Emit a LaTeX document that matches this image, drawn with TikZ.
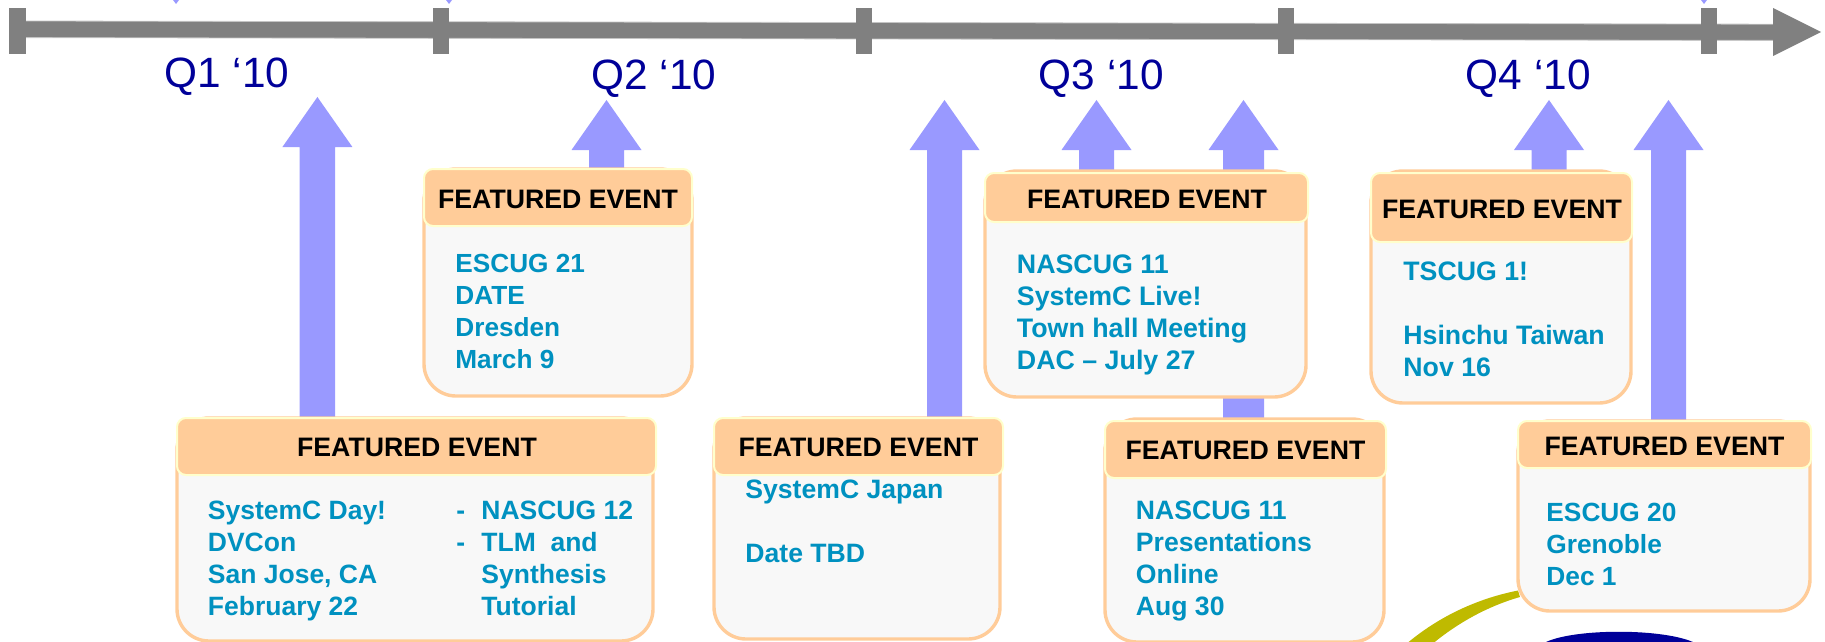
\documentclass[tikz,border=0pt]{standalone}
\usepackage{fontspec}
\setmainfont{Liberation Sans}
\usetikzlibrary{backgrounds,calc}
\definecolor{axisgrey}{HTML}{808080}
\definecolor{axisedge}{HTML}{C4C4C4}
\definecolor{quarter}{HTML}{000099}
\definecolor{arrowblue}{HTML}{9999FF}
\definecolor{bodyfill}{HTML}{F8F8F8}
\definecolor{peach}{HTML}{FFCC99}
\definecolor{paleyellow}{HTML}{FFFFCC}
\definecolor{eventblue}{HTML}{0091C0}
\definecolor{olive}{HTML}{BFBA00}
\tikzset{
  axisfill/.style={fill=axisgrey,draw=none},
  quarterlabel/.style={anchor=base west,inner sep=0pt,text=quarter,font=\fontsize{21.2}{25}\selectfont},
  evbody/.style={rectangle,inner sep=0pt,outer sep=0pt,draw=peach,fill=bodyfill,line width=1.7pt,rounded corners=16pt},
  evhead/.style={rectangle,inner sep=0pt,outer sep=0pt,draw=paleyellow,fill=peach,line width=1pt,rounded corners=4.5pt},
  evtitle/.style={anchor=base,inner sep=0pt,text=black,font=\fontsize{13.35}{16}\selectfont\bfseries},
  evtext/.style={anchor=base west,inner sep=0pt,align=left,text=eventblue,font=\fontsize{#1}{16}\selectfont\bfseries},
  evtext/.default=13.25,
  blockfill/.style={fill=arrowblue,draw=none}
}
% name, x1, x2, y1, y2 : rounded box by its outer edges in reference pixels
\newcommand{\evbox}[6]{%
  \node[#6,minimum width={(#3-#2)*0.5pt},minimum height={(#5-#4)*0.5pt}] (#1) at ({(#2+#3)/2},{(#4+#5)/2}) {};}
% name, tip x, tip y, shaft half width, foot node
\newcommand{\blockarrow}[5]{%
  \coordinate (#1tip) at (#2,#3);
  \coordinate (#1foot) at (#1tip |- #5.north);
  \begin{scope}[on background layer]
  \fill[blockfill] (#1tip) -- ++(35,50) -- ++({-35+#4},0) -- ([xshift={#4*0.5pt},yshift=-2pt]#1foot) -- ([xshift={-#4*0.5pt},yshift=-2pt]#1foot) -- ($(#1tip)+({-#4},50)$) -- ++({-35+#4},0) -- cycle;
  \end{scope}}
\begin{document}
\begin{tikzpicture}[x=0.5pt,y=-0.5pt]
\useasboundingbox (0,0) rectangle (1825,642);
\clip (0,0) rectangle (1825,642);
% axis
\fill[axisgrey,draw=axisedge,line width=0.4pt] (20,21) -- (1775,24.2) -- (1775,40.4) -- (20,37.6) -- cycle;
\fill[axisfill] (1773,8) -- (1821,32) -- (1773,56) -- cycle;
\foreach \nm/\xa/\xb in {t0/9/25.5,t1/433/449,t2/856/872,t3/1278/1294,t4/1701/1717}
  \node[rectangle,inner sep=0pt,outer sep=0pt,axisfill,minimum width={(\xb-\xa)*0.5pt},minimum height=23pt] (\nm) at ({(\xa+\xb)/2},31) {};
% small tips at the upper edge
\foreach \tx in {176,449,1704}
  \fill[blockfill] (\tx-3,0) -- (\tx+3,0) -- (\tx,4) -- cycle;
% quarters
\node[quarterlabel] (q1) at (164,88) {Q1 ‘10};
\node[quarterlabel] (q2) at (591,89.5) {Q2 ‘10};
\node[quarterlabel] (q3) at (1038.5,90) {Q3 ‘10};
\node[quarterlabel] (q4) at (1465.5,89.5) {Q4 ‘10};
% crescent and logo edge
\fill[olive] (1518,590.5) .. controls (1480,598) and (1440,615) .. (1405,645) -- (1431,645) .. controls (1455,625) and (1485,607) .. (1520,597) -- cycle;
\fill[quarter] (1544,643) .. controls (1572,628) and (1665,628) .. (1695,643) -- cycle;
% boxes
\evbox{b1}{177}{653}{418}{641}{evbody}
\evbox{h1}{177}{656}{418}{475}{evhead}
\evbox{b2}{424}{692}{169}{396}{evbody}
\evbox{h2}{424}{692}{169}{226}{evhead}
\evbox{b3}{714}{1000}{418}{639}{evbody}
\evbox{h3}{714}{1003}{418}{475}{evhead}
\evbox{b4}{985}{1306}{171}{397}{evbody}
\evbox{h4}{985}{1308}{173}{222}{evhead}
\evbox{b5}{1105}{1384}{419}{642}{evbody}
\evbox{h5}{1105}{1386}{421}{478}{evhead}
\evbox{b6}{1371}{1631}{171}{403}{evbody}
\evbox{h6}{1371}{1632}{173}{242}{evhead}
\evbox{b7}{1518}{1810}{421}{611}{evbody}
\evbox{h7}{1518}{1811}{421}{468}{evhead}
% titles
\node[evtitle] (t1a) at (417,456) {FEATURED EVENT};
\node[evtitle] (t2a) at (558,208) {FEATURED EVENT};
\node[evtitle] (t3a) at (858.5,456) {FEATURED EVENT};
\node[evtitle] (t4a) at (1147,208) {FEATURED EVENT};
\node[evtitle] (t5a) at (1245.5,459) {FEATURED EVENT};
\node[evtitle] (t6a) at (1502,218) {FEATURED EVENT};
\node[evtitle] (t7a) at (1664.5,455) {FEATURED EVENT};
% bodies
\node[evtext] (e1a) at (207.5,615.5) {SystemC Day!\\DVCon\\San Jose, CA\\February 22};
\node[evtext] (e1b) at (456,551.5) {-\\-};
\node[evtext] (e1c) at (481,615.5) {NASCUG 12\\TLM\ \ and\\Synthesis\\Tutorial};
\node[evtext=13.1] (e2) at (455,368.5) {ESCUG 21\\DATE\\Dresden\\March 9};
\node[evtext=13.3] (e3) at (745,562.5) {SystemC Japan\\[16pt]Date TBD};
\node[evtext=13.4] (e4) at (1016.5,369.5) {NASCUG 11\\SystemC Live!\\Town hall Meeting\\DAC – July 27};
\node[evtext=13.3] (e5) at (1135.5,615.5) {NASCUG 11\\Presentations\\Online\\Aug 30};
\node[evtext=13.35] (e6) at (1403,376) {TSCUG 1!\\[16pt]Hsinchu Taiwan\\Nov 16};
\node[evtext=13.15] (e7) at (1546,585) {ESCUG 20\\Grenoble\\Dec 1};
% block arrows
\blockarrow{a1}{317.4}{97}{17.7}{h1}
\blockarrow{a2}{606.5}{100}{17.5}{h2}
\blockarrow{a3}{944.5}{100}{17.5}{h3}
\blockarrow{a4}{1096.5}{100}{17.5}{h4}
\blockarrow{a5}{1243.5}{100}{20.5}{h5}
\blockarrow{a6}{1549}{100}{17.5}{h6}
\blockarrow{a7}{1668.5}{100}{17.5}{h7}
\end{tikzpicture}
\end{document}
